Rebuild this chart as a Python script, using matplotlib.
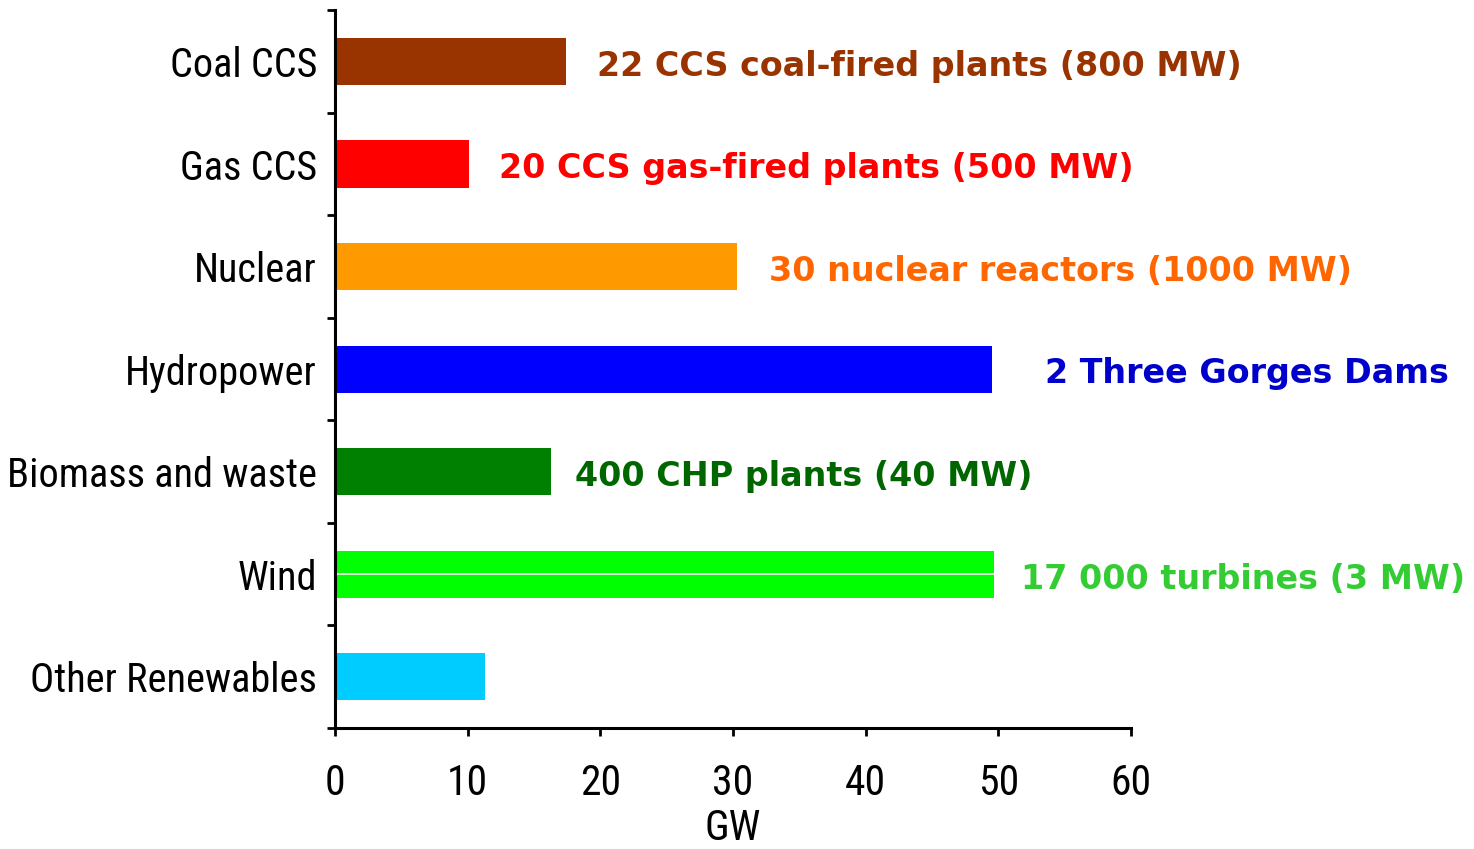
import matplotlib
matplotlib.use("Agg")
import matplotlib.pyplot as plt
from matplotlib.ticker import FixedLocator

categories = ["Coal CCS", "Gas CCS", "Nuclear", "Hydropower", "Biomass and waste", "Wind", "Other Renewables"]
values_gw = [17.4, 10.1, 30.3, 49.5, 16.3, 49.7, 11.3]
annotations = ["22 CCS coal-fired plants (800 MW)", "20 CCS gas-fired plants (500 MW)",
               "30 nuclear reactors (1000 MW)", "2 Three Gorges Dams", "400 CHP plants (40 MW)",
               "17 000 turbines (3 MW)", ""]
x_ticks = [0, 10, 20, 30, 40, 50, 60]

bar_colors = ["#993300", "#FF0000", "#FF9900", "#0000FF", "#008000", "#00FF00", "#00CCFF"]
text_colors = ["#993300", "#FF0000", "#FF6600", "#0000CC", "#006600", "#33CC33", "#00CCFF"]
text_offsets_px = [31, 30, 32, 53, 24, 27, 0]

label_font = ["Roboto Condensed", "Archivo Narrow", "DejaVu Sans"]

fig = plt.figure(figsize=(14.74, 8.49), dpi=100)
ax = fig.add_axes([0.2273, 0.1425, 0.7673 - 0.2273, 0.988 - 0.1425])

ypos = list(range(len(categories)))
ax.barh(ypos, values_gw, height=0.46, color=bar_colors)
# thin white line through the wind bar
wi = categories.index("Wind")
ax.hlines(wi, 0, values_gw[wi], colors="white", linewidth=1.2)

ax.set_ylim(len(categories) - 0.5, -0.5)
ax.set_xlim(0, 60)

for i, (v, t) in enumerate(zip(values_gw, annotations)):
    if t:
        ax.annotate(t, xy=(v, i), xytext=(text_offsets_px[i] * 0.72, -3.5), textcoords="offset points",
                    ha="left", va="center", fontsize=24, fontweight="bold",
                    color=text_colors[i], family="DejaVu Sans", annotation_clip=False)

ax.set_yticks(ypos)
ax.set_yticklabels(categories, family=label_font, fontsize=29)
ax.yaxis.set_minor_locator(FixedLocator([i - 0.5 for i in range(len(categories) + 1)]))
ax.tick_params(axis="y", which="major", length=0, pad=13)
ax.tick_params(axis="y", which="minor", length=6, width=2, direction="out")

ax.set_xticks(x_ticks)
ax.set_xticklabels([str(x) for x in x_ticks], family=label_font, fontsize=30)
ax.tick_params(axis="x", which="major", length=6, width=2, direction="out", pad=19)
ax.set_xlabel("GW", family=label_font, fontsize=30, labelpad=3)

for s in ["top", "right"]:
    ax.spines[s].set_visible(False)
for s in ["left", "bottom"]:
    ax.spines[s].set_linewidth(2.2)

fig.savefig("out.png", dpi=100)
